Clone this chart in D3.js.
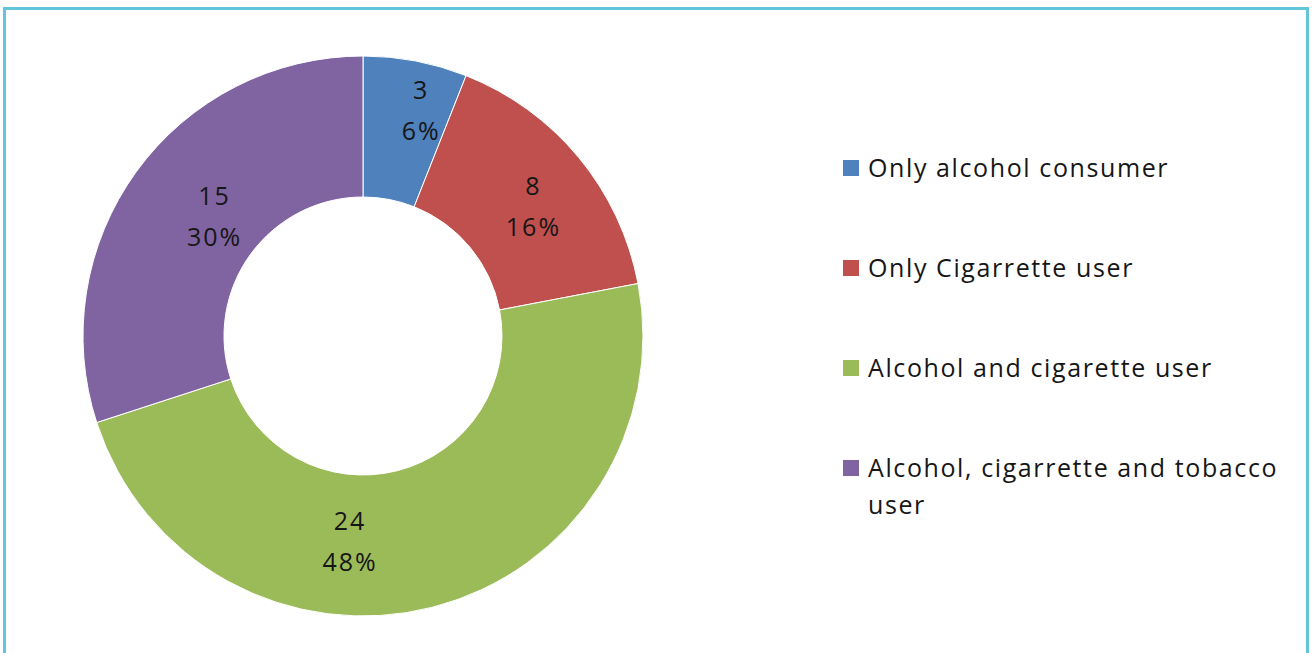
<!DOCTYPE html>
<html>
<head>
<meta charset="utf-8">
<script src="https://cdn.jsdelivr.net/npm/d3@7"></script>
<style>
  html, body { margin: 0; padding: 0; background: #ffffff; }
  svg { display: block; }
  text { font-family: "Open Sans", "DejaVu Sans", sans-serif; fill: #161616; }
</style>
</head>
<body>
<svg id="chart" width="1312" height="653"></svg>
<script>
// Respondent groups and their counts
const categories = [
  "Only alcohol consumer",
  "Only Cigarrette user",
  "Alcohol and cigarette user",
  "Alcohol, cigarrette and tobacco user"
];
const counts = [3, 8, 24, 15];
const colors = ["#4f81bd", "#c0504d", "#9bbb59", "#8064a2"];
// Legend entries, already wrapped into lines
const legendLines = [
  ["Only alcohol consumer"],
  ["Only Cigarrette user"],
  ["Alcohol and cigarette user"],
  ["Alcohol, cigarrette and tobacco", "user"]
];

const W = 1312, H = 653;
const svg = d3.select("#chart");

// Outer frame
svg.append("rect")
  .attr("x", 4.5).attr("y", 8.5)
  .attr("width", 1303).attr("height", H + 20)
  .attr("fill", "none")
  .attr("stroke", "#62c5da")
  .attr("stroke-width", 3);

const cx = 363, cy = 336;
const outerR = 280, innerR = 139;

const total = d3.sum(counts);
const data = counts.map((v, i) => ({ name: categories[i], value: v, color: colors[i] }));

const pie = d3.pie().value(d => d.value).sort(null);
const arc = d3.arc().innerRadius(innerR).outerRadius(outerR);
const labelArc = d3.arc().innerRadius((innerR + outerR) / 2).outerRadius((innerR + outerR) / 2);

const g = svg.append("g").attr("transform", `translate(${cx},${cy})`);
const arcs = pie(data);

g.selectAll("path.slice")
  .data(arcs)
  .enter().append("path")
  .attr("class", "slice")
  .attr("d", arc)
  .attr("fill", d => d.data.color)
  .attr("stroke", "#ffffff")
  .attr("stroke-width", 1);

// Label offsets from the slice centroid (px)
const labelNudge = [[19, -20], [9, 4], [-65, 2], [21, 3]];
const fmtPct = d3.format(".0%");

const labels = g.selectAll("g.lbl")
  .data(arcs)
  .enter().append("g")
  .attr("class", "lbl")
  .attr("transform", (d, i) => {
    const c = labelArc.centroid(d);
    return `translate(${c[0] + labelNudge[i][0]},${c[1] + labelNudge[i][1]})`;
  });

labels.append("text")
  .attr("text-anchor", "middle")
  .attr("y", -20)
  .attr("dy", "0.35em")
  .style("font-size", "25px")
  .style("letter-spacing", "2px")
  .text(d => d.data.value);

labels.append("text")
  .attr("text-anchor", "middle")
  .attr("y", 21)
  .attr("dy", "0.35em")
  .style("font-size", "25px")
  .style("letter-spacing", "2px")
  .text(d => fmtPct(d.data.value / total));

// Legend
const legendX = 843, legendY0 = 168, legendStep = 100;
const legend = svg.selectAll("g.legend")
  .data(data)
  .enter().append("g")
  .attr("class", "legend")
  .attr("transform", (d, i) => `translate(${legendX},${legendY0 + i * legendStep})`);

legend.append("rect")
  .attr("x", 0).attr("y", -8)
  .attr("width", 16).attr("height", 16)
  .attr("fill", d => d.color);

legend.each(function (d, i) {
  const t = d3.select(this).append("text")
    .attr("x", 25)
    .style("font-size", "25px")
    .style("letter-spacing", "1.6px");
  legendLines[i].forEach((line, k) => {
    t.append("tspan")
      .attr("x", 25)
      .attr("y", k * 37)
      .attr("dy", "0.35em")
      .text(line);
  });
});
</script>
</body>
</html>
